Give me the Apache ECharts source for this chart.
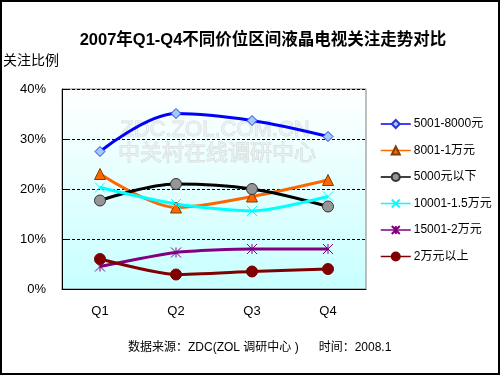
<!DOCTYPE html>
<html><head><meta charset="utf-8">
<script src="https://cdn.jsdelivr.net/npm/echarts@6/dist/echarts.min.js"></script>
<style>html,body{margin:0;padding:0;background:#fff}#c{width:500px;height:375px;}</style>
</head><body><div id="c"></div>
<script>
var categories = ['Q1','Q2','Q3','Q4'];
var seriesNames = ['5001-8000元','8001-1万元','5000元以下','10001-1.5万元','15001-2万元','2万元以上'];
var s5001_8000 = [27.5, 35.1, 33.7, 30.5];
var s8001_1w = [23.0, 16.3, 18.5, 21.8];
var sBelow5000 = [17.7, 21.0, 20.0, 16.5];
var s10001_15w = [20.3, 17.0, 15.6, 18.5];
var s15001_2w = [4.5, 7.3, 8.0, 8.0];
var sAbove2w = [6.0, 2.9, 3.5, 4.0];
var yTicks = [0, 10, 20, 30, 40];

var chart = echarts.init(document.getElementById('c'));
var font = 'Arial, "Liberation Sans", "Noto Sans CJK SC", sans-serif';
var xPath = 'path://M0,0L10,10M10,0L0,10';
var starPath = 'path://M0,0L10,10M10,0L0,10M5,0L5,10';
function mk(name, data, color, symbol, size, fill, border, smooth, lw) {
  return {
    name: name, type: 'line', data: data, smooth: smooth,
    symbol: symbol, symbolSize: size,
    lineStyle: {color: color, width: lw},
    itemStyle: {color: fill, borderColor: border, borderWidth: 1},
    emphasis: {disabled: true}, z: 3
  };
}
chart.setOption({
  animation: false,
  backgroundColor: '#fff',
  title: {
    text: '2007年Q1-Q4不同价位区间液晶电视关注走势对比',
    left: 258, top: 27, textAlign: 'center',
    textStyle: {fontSize: 16.5, fontWeight: 'bold', color: '#000', fontFamily: font}
  },
  graphic: [
    {type: 'rect', shape: {x: 1, y: 1, width: 498, height: 373},
     style: {fill: 'none', stroke: '#000', lineWidth: 2}, z: 100, silent: true},
    {type: 'text', left: 3, top: 54, style: {text: '关注比例', fontSize: 14, fill: '#000', fontFamily: font}},
    {type: 'text', left: 128, top: 342, style: {text: '数据来源：ZDC(ZOL 调研中心 )      时间：2008.1', fontSize: 12, fill: '#000', fontFamily: font}},
    {type: 'text', x: 215, y: 119, style: {text: 'ZDC.ZOL.COM.CN', fontSize: 22, fill: 'rgba(240,240,240,0.5)', stroke: 'rgba(200,200,200,0.6)', lineWidth: 1, textAlign: 'center', fontFamily: font}, z: 2},
    {type: 'text', x: 217, y: 143, style: {text: '中关村在线调研中心', fontSize: 22, fill: 'rgba(240,240,240,0.5)', stroke: 'rgba(200,200,200,0.6)', lineWidth: 1, textAlign: 'center', fontFamily: font}, z: 2}
  ],
  legend: {
    orient: 'vertical', left: 375, top: 113, itemGap: 14.5,
    itemWidth: 30, itemHeight: 10,
    textStyle: {fontSize: 12, color: '#000', fontFamily: font, padding: [0,0,0,-2]},
    lineStyle: {width: 1.5},
    data: seriesNames
  },
  grid: {
    left: 62, right: 134, top: 89, bottom: 86, show: true,
    borderColor: '#808080', borderWidth: 1,
    backgroundColor: new echarts.graphic.LinearGradient(0,0,0,1,[{offset:0,color:'#ffffff'},{offset:1,color:'#c8ffff'}])
  },
  xAxis: {
    type: 'category', data: categories, boundaryGap: true,
    axisLine: {lineStyle: {color: '#000', width: 1}},
    axisTick: {inside: true, length: 4, lineStyle: {color: '#000'}},
    axisLabel: {fontSize: 13, color: '#000', margin: 16, fontFamily: font}
  },
  yAxis: {
    type: 'value', min: 0, max: 40, interval: 10,
    axisLine: {show: true, lineStyle: {color: '#000'}},
    axisTick: {show: true, inside: true, length: 6, lineStyle: {color: '#000'}},
    axisLabel: {fontSize: 13, color: '#000', margin: 16, formatter: '{value}%', fontFamily: font},
    splitLine: {show: true, lineStyle: {color: '#000', type: [3,2], width: 1}}
  },
  series: [
    mk(seriesNames[0], s5001_8000, '#0000ff', 'diamond', 10, '#99ccff', '#3333cc', 0.35, 3),
    mk(seriesNames[1], s8001_1w, '#ff6600', 'triangle', 11, '#ff6600', '#804000', 0.3, 3),
    mk(seriesNames[2], sBelow5000, '#000000', 'circle', 11, '#969696', '#333333', 0.35, 3),
    mk(seriesNames[3], s10001_15w, '#00ffff', xPath, 10, '#00ffff', '#00ffff', 0.25, 3),
    mk(seriesNames[4], s15001_2w, '#800080', starPath, 10, '#800080', '#800080', 0.2, 3),
    mk(seriesNames[5], sAbove2w, '#800000', 'circle', 11, '#800000', '#800000', 0.2, 3)
  ]
});
</script></body></html>
